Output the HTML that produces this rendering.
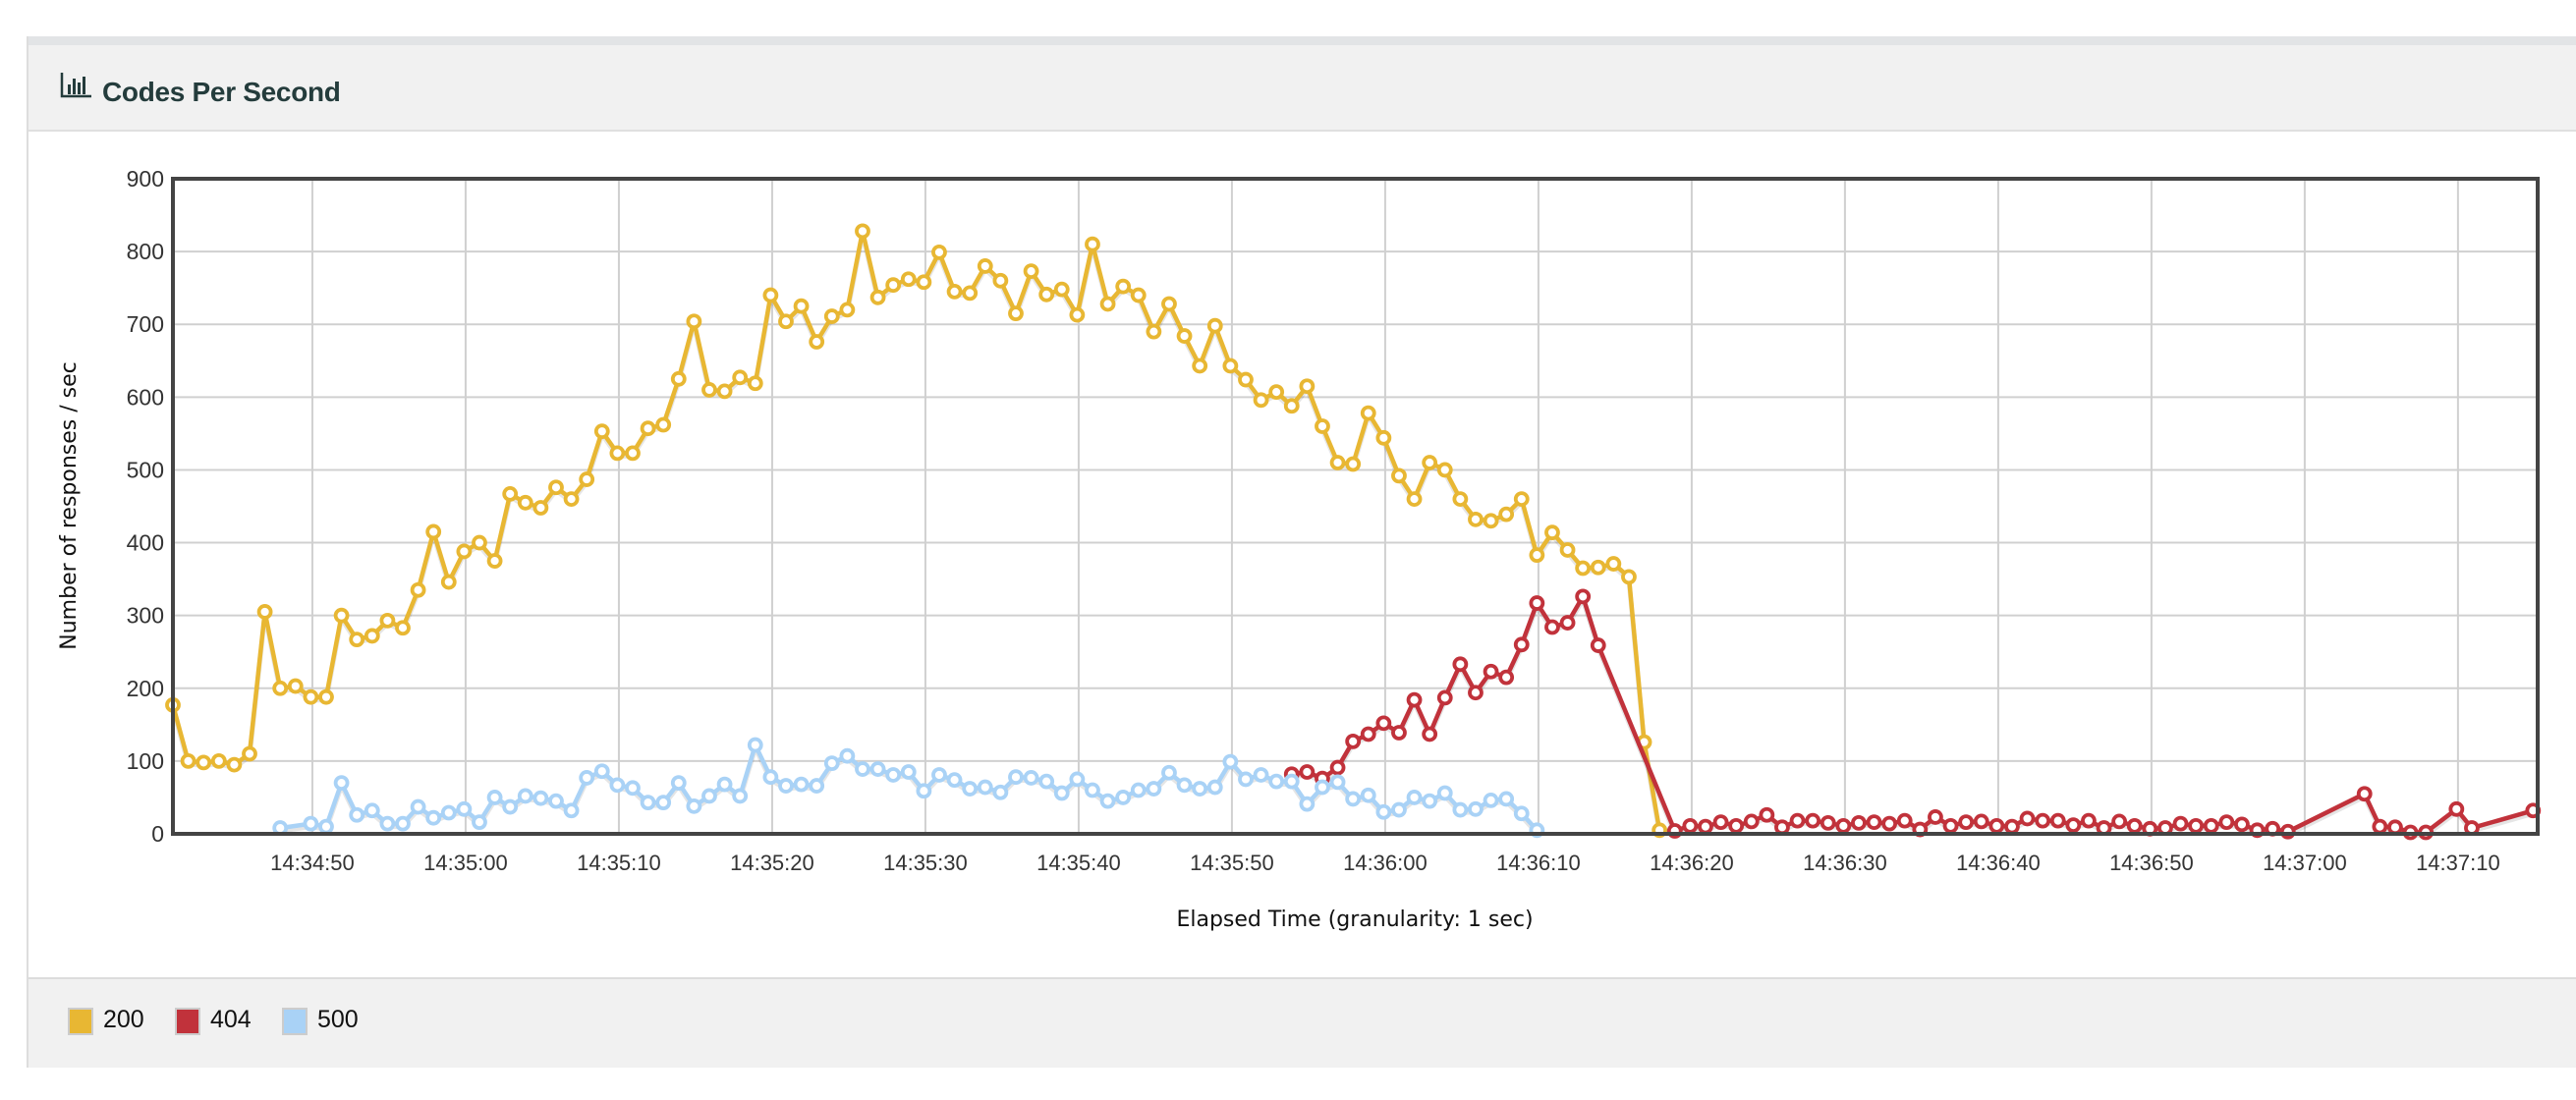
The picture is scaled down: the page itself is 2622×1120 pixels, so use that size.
<!DOCTYPE html>
<html><head><meta charset="utf-8"><style>
body{margin:0;width:2622px;height:1120px;background:#fff;overflow:hidden;font-family:"Liberation Sans",sans-serif}
#panel{position:absolute;left:27px;top:37px;width:2595px;height:1050px;border-left:2px solid #ddd;border-bottom:2px solid #ddd;box-sizing:border-box;background:#fff}
#hdr{position:absolute;left:0;top:0;right:0;height:97px;background:#f1f1f1;border-top:9px solid #e2e4e6;border-bottom:2px solid #e0e0e0;box-sizing:border-box}
#title{position:absolute;left:75px;top:32px;font-size:28px;font-weight:bold;color:#243c3c;letter-spacing:-0.3px}
#legend{position:absolute;left:0;right:0;top:958px;height:90px;background:#f1f1f1;border-top:2px solid #dcdcdc}
.sw{position:absolute;top:29px;width:22px;height:24px;border:2px solid #ccc}
.lt{position:absolute;top:27px;font-size:25px;color:#111}
svg{position:absolute;left:0;top:0}
</style></head><body>
<div id="panel">
<div id="hdr">
<svg width="34" height="30" style="left:32px;top:26px"><path d="M2 2V26H32" stroke="#243c3c" stroke-width="2.5" fill="none"/><rect x="8" y="14" width="3" height="10" fill="#243c3c"/><rect x="13" y="8" width="3" height="16" fill="#243c3c"/><rect x="18" y="12" width="3" height="12" fill="#243c3c"/><rect x="23" y="6" width="3" height="18" fill="#243c3c"/></svg>
<div id="title">Codes Per Second</div>
</div>
<div id="legend">
<div class="sw" style="left:40px;background:#e8b733"></div><div class="lt" style="left:76px">200</div>
<div class="sw" style="left:149px;background:#c1323b"></div><div class="lt" style="left:185px">404</div>
<div class="sw" style="left:258px;background:#a9d2f6"></div><div class="lt" style="left:294px">500</div>
</div>
</div>
<svg id="chart" width="2622" height="1120"></svg>
<script>
const yTicks=[0,100,200,300,400,500,600,700,800,900];
const xTickLabels=["14:34:50","14:35:00","14:35:10","14:35:20","14:35:30","14:35:40","14:35:50","14:36:00","14:36:10","14:36:20","14:36:30","14:36:40","14:36:50","14:37:00","14:37:10"];
const xTickIdx=[9.1,19.1,29.1,39.1,49.1,59.1,69.1,79.1,89.1,99.1,109.1,119.1,129.1,139.1,149.1];
const s200Start=0;
const s200=[177,100,98,100,95,110,305,200,203,188,188,300,267,272,293,283,335,415,346,388,400,375,467,455,448,476,460,487,553,523,523,557,562,625,704,610,608,627,619,740,704,725,676,711,720,828,737,754,762,758,799,745,743,780,760,715,773,741,748,713,810,728,752,740,690,728,684,643,698,643,624,596,607,588,615,560,510,508,578,544,492,460,510,500,460,432,430,439,460,383,414,390,365,366,371,353,126,5];
const s500Idx=[7,9,10,11,12,13,14,15,16,17,18,19,20,21,22,23,24,25,26,27,28,29,30,31,32,33,34,35,36,37,38,39,40,41,42,43,44,45,46,47,48,49,50,51,52,53,54,55,56,57,58,59,60,61,62,63,64,65,66,67,68,69,70,71,72,73,74,75,76,77,78,79,80,81,82,83,84,85,86,87,88,89];
const s500=[8,14,10,70,26,32,14,14,37,22,29,34,16,50,37,52,49,45,32,77,86,67,63,43,43,70,38,52,68,52,122,78,66,68,66,97,107,89,89,81,85,59,81,74,62,64,57,78,77,72,56,75,60,45,50,60,62,84,67,62,64,99,75,81,72,72,41,64,71,48,53,30,33,50,45,56,33,34,46,48,28,5];
const s404Idx=[73,74,75,76,77,78,79,80,81,82,83,84,85,86,87,88,89,90,91,92,93,98,99,100,101,102,103,104,105,106,107,108,109,110,111,112,113,114,115,116,117,118,119,120,121,122,123,124,125,126,127,128,129,130,131,132,133,134,135,136,137,138,143,144,145,146,147,149,150,154];
const s404=[82,85,76,91,127,137,152,139,184,137,187,233,194,223,215,260,317,284,290,326,259,4,11,10,16,11,17,26,9,18,18,15,11,15,16,14,18,6,23,11,16,17,11,10,21,18,18,12,18,8,17,11,7,8,14,11,11,16,13,5,7,3,55,10,9,2,2,34,8,32];
const L=176,R=2583,T=182,B=849,XMAX=154.3,YMAX=900;
const X=i=>L+(R-L)*i/XMAX, Y=v=>B-(B-T)*v/YMAX;
const svg=document.getElementById('chart'),NS='http://www.w3.org/2000/svg';
function mk(t,a){const e=document.createElementNS(NS,t);for(const k in a)e.setAttribute(k,a[k]);svg.appendChild(e);return e;}
yTicks.forEach(v=>{
 if(v>0&&v<900){const g=mk('line',{x1:L,x2:R,y1:Y(v),y2:Y(v),stroke:'#d0d0d0','stroke-width':2});
 
 }
 const t=mk('text',{x:167,y:Y(v)+8,'text-anchor':'end','font-size':23,fill:'#333','font-family':'Liberation Sans, sans-serif'});
 t.textContent=v;
 
 
});
xTickIdx.forEach((ix,k)=>{
 const g=mk('line',{x1:X(ix),x2:X(ix),y1:T,y2:B,stroke:'#d0d0d0','stroke-width':2});
 
 
 const t=mk('text',{x:X(ix),y:886,'text-anchor':'middle','font-size':22,fill:'#333','font-family':'Liberation Sans, sans-serif'});
 t.textContent=xTickLabels[k];
 
 
});
function series(idx,vals,col,name){
 const pts=idx.map((ix,k)=>[X(ix),Y(vals[k])]);
 const d='M'+pts.map(p=>p[0].toFixed(1)+','+p[1].toFixed(1)).join('L');
 const sh=mk('path',{d:d,fill:'none',stroke:'rgba(0,0,0,0.1)','stroke-width':5,transform:'translate(0,3)','stroke-linejoin':'round'});
 
 
 const ln=mk('path',{d:d,fill:'none',stroke:col,'stroke-width':4.5,'stroke-linejoin':'round'});
 
 
 pts.forEach(p=>{const c=mk('circle',{cx:p[0],cy:p[1],r:6,fill:'#fff',stroke:col,'stroke-width':3.8});
 
 });
}
series(s200.map((v,k)=>s200Start+k),s200,'#e8b733','series-200');
series(s404Idx,s404,'#c1323b','series-404');
series(s500Idx,s500,'#a9d2f6','series-500');
const fr=mk('rect',{x:L,y:T,width:R-L,height:B-T,fill:'none',stroke:'#444','stroke-width':4});


const yt=mk('text',{x:0,y:0,transform:'translate(77,515) rotate(-90)','text-anchor':'middle','font-size':22,fill:'#111','font-family':'DejaVu Sans, sans-serif'});
yt.textContent='Number of responses / sec';


const xt=mk('text',{x:1379,y:943,'text-anchor':'middle','font-size':22,fill:'#111','font-family':'DejaVu Sans, sans-serif'});
xt.textContent='Elapsed Time (granularity: 1 sec)';


</script>
</body></html>
